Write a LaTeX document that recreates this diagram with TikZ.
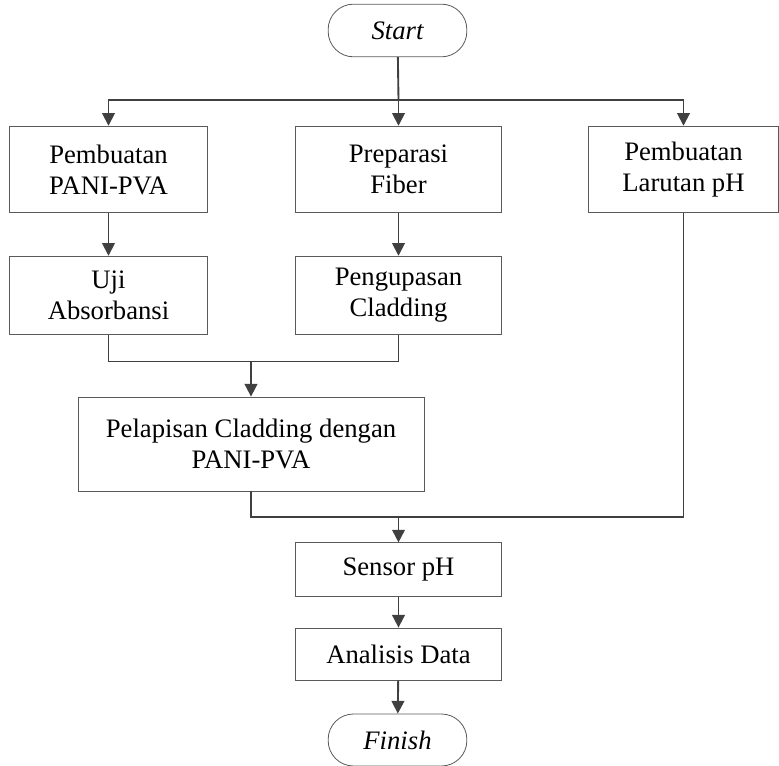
\documentclass[tikz,border=0pt]{standalone}
\usepackage{fontspec}
\setmainfont{Liberation Serif}
\usepackage{tikz}
\usetikzlibrary{arrows.meta,positioning}
\definecolor{garis}{HTML}{404040}
\definecolor{tepi}{HTML}{5A5A5A}

\begin{document}
\begin{tikzpicture}[x=0.75pt, y=-0.75pt, node font=\fontsize{20}{23.2}\selectfont,
	kotak/.style={draw=tepi, line width=0.6pt, align=center, inner sep=0pt},
	terminal/.style={kotak, rounded corners=19pt, font=\itshape},
	alur/.style={draw=garis, line width=1.4pt, -{Triangle[width=9.5pt,length=9.5pt]}},
	garisan/.style={draw=garis, line width=1.4pt}]
			\useasboundingbox (0,0) rectangle (779,766);
			\node[terminal, minimum width=104pt, minimum height=39.5pt] (start) at (397.5,30.5) {Start};
			\node[kotak, minimum width=149pt, minimum height=65pt] (pani) at (108.5,169.5) {Pembuatan\\PANI-PVA};
			\node[kotak, minimum width=155pt, minimum height=65pt] (fiber) at (398.5,169.5) {Preparasi\\Fiber};
			\node[kotak, minimum width=142pt, minimum height=65pt] (larutan) at (683.5,169.5) {Pembuatan\\Larutan pH};
			\node[kotak, minimum width=149pt, minimum height=59pt] (uji) at (108.5,295.5) {Uji\\Absorbansi};
			\node[kotak, minimum width=155pt, minimum height=59pt] (kupas) at (398.5,295.5) {Pengupasan\\Cladding};
			\node[kotak, minimum width=259.5pt, minimum height=70.5pt] (lapis) at (251,444) {Pelapisan Cladding dengan\\PANI-PVA};
			\node[kotak, minimum width=155pt, minimum height=40pt] (sensor) at (398.5,569.5) {Sensor pH};
			\node[kotak, minimum width=155pt, minimum height=39pt] (analisis) at (398.5,654) {Analisis Data};
			\node[terminal, minimum width=104pt, minimum height=39pt] (finish) at (397.5,740) {Finish};
			\coordinate (cabang) at (398.5,100);
			\coordinate (gabung) at (251,361.5);
			\coordinate (gabungdua) at (398.5,517);
			% percabangan dari start
			\draw[garisan] (start) -- (cabang);
			\draw[alur] (cabang) -| (pani);
			\draw[alur] (cabang) -- (fiber);
			\draw[alur] (cabang) -| (larutan);
			\draw[alur] (pani) -- (uji);
			\draw[alur] (fiber) -- (kupas);
			% penggabungan
			\draw[garisan] (uji) |- (gabung);
			\draw[garisan] (kupas) |- (gabung);
			\draw[alur] (gabung) -- (lapis);
			\draw[garisan] (lapis) |- (gabungdua);
			\draw[garisan] (larutan) |- (gabungdua);
			\draw[alur] (gabungdua) -- (sensor);
			\draw[alur] (sensor) -- (analisis);
			\draw[alur] (analisis) -- (finish);
		\end{tikzpicture}
\end{document}
